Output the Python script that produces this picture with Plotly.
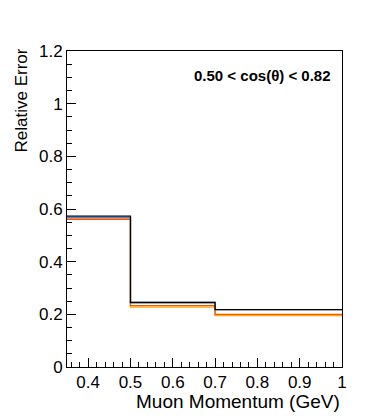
"""Relative error per muon momentum bin, one cos(theta) slice (ROOT-style step histogram)."""
import plotly.graph_objects as go

# Bin edges and values
bin_edges = [0.35, 0.5, 0.7, 1.0]
err_black = [0.573, 0.245, 0.218]
err_blue = [0.567, 0.245, 0.218]
err_orange = [0.561, 0.233, 0.200]
err_yellow = [0.561, 0.227, 0.195]

y_ticks = [0, 0.2, 0.4, 0.6, 0.8, 1, 1.2]
y_labels = ["0", "0.2", "0.4", "0.6", "0.8", "1", "1.2"]
x_ticks = [0.4, 0.5, 0.6, 0.7, 0.8, 0.9, 1.0]
x_labels = ["0.4", "0.5", "0.6", "0.7", "0.8", "0.9", "1"]


def step(values):
    # repeat last value so the hv line reaches the last edge
    return bin_edges, list(values) + [values[-1]]


fig = go.Figure()
series = [
    (err_yellow, "#ffaa00"),
    (err_orange, "#ff5500"),
    (err_blue, "#4f82db"),
    (err_black, "black"),
]
for vals, col in series:
    xs, ys = step(vals)
    fig.add_trace(go.Scatter(x=xs, y=ys, mode="lines", line_shape="hv",
                             line=dict(color=col, width=1.3),
                             showlegend=False, hoverinfo="skip"))

font = "Liberation Sans, Arial, Helvetica, sans-serif"

# page body has an 8px margin, so the figure is made 8px smaller
fig.update_layout(
    width=367, height=409,
    margin=dict(l=59, r=33, t=43, b=50),
    paper_bgcolor="white", plot_bgcolor="white",
    font=dict(family=font, size=17, color="black"),
    showlegend=False,
)
fig.update_xaxes(range=[0.35, 1.0], tickvals=x_ticks, ticktext=x_labels,
                 ticks="inside", ticklen=9, tickwidth=1, tickcolor="black",
                 minor=dict(dtick=0.02, tick0=0.4, ticks="inside", ticklen=5,
                            tickcolor="black", showgrid=False),
                 showgrid=False, zeroline=False, showline=True, linecolor="black",
                 linewidth=1, mirror=True, tickfont=dict(size=17))
fig.update_yaxes(range=[0, 1.2], tickvals=y_ticks, ticktext=y_labels,
                 ticks="inside", ticklen=9, tickwidth=1, tickcolor="black",
                 minor=dict(dtick=0.05, tick0=0, ticks="inside", ticklen=5,
                            tickcolor="black", showgrid=False),
                 showgrid=False, zeroline=False, showline=True, linecolor="black",
                 linewidth=1, mirror=True, tickfont=dict(size=17))

# Axis titles, right-aligned to the axis ends like ROOT
fig.add_annotation(text="Muon Momentum (GeV)", xref="paper", yref="paper",
                   x=1.0, y=0, yshift=-47, xanchor="right", yanchor="bottom",
                   showarrow=False, font=dict(size=19))
fig.add_annotation(text="Relative Error", xref="paper", yref="paper",
                   x=0, xshift=-58, y=1.0, yshift=4, xanchor="left", yanchor="top",
                   textangle=-90, showarrow=False, font=dict(size=17))
fig.add_annotation(text="<b>0.50 < cos(\u03b8) < 0.82</b>", xref="paper", yref="paper",
                   x=0.967, y=0.924, xanchor="right", yanchor="middle",
                   showarrow=False, font=dict(size=15))

fig.write_html("out.html")
